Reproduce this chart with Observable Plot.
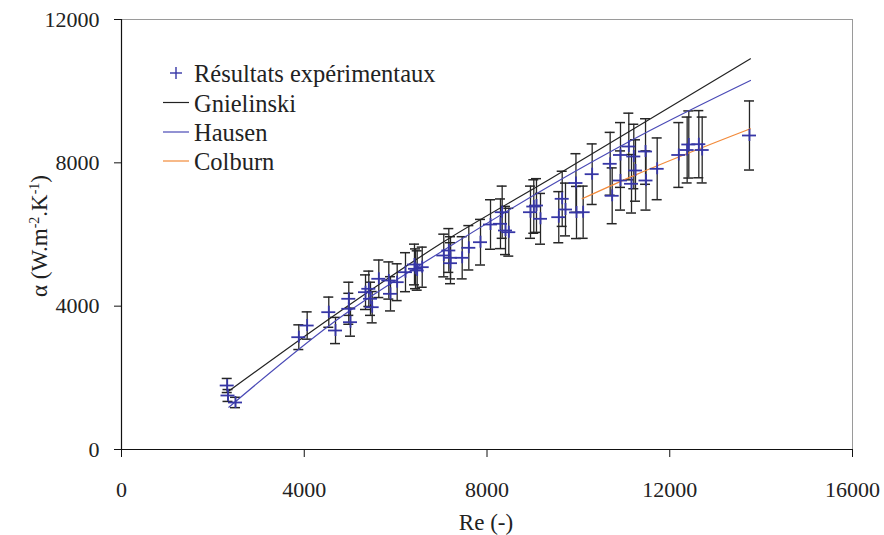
<!DOCTYPE html>
<html>
<head>
<meta charset="utf-8">
<script src="https://cdn.jsdelivr.net/npm/d3@7"></script>
<script src="https://cdn.jsdelivr.net/npm/@observablehq/plot@0.6"></script>
<style>
  html, body { margin: 0; padding: 0; background: #fff; }
  svg { display: block; }
</style>
</head>
<body>
<div id="chart"></div>
<script>
// Experimental points (Re, alpha)
const expRe = [2314, 2331, 2495, 3881, 4064, 4537, 4684, 4975, 4975, 5012,
  5341, 5413, 5450, 5487, 5632, 5851, 5888, 6034, 6216, 6413,
  6435, 6472, 6582, 7054, 7164, 7201, 7201, 7457, 7602, 7858,
  8077, 8295, 8332, 8405, 8477, 8952, 9024, 9083, 9171, 9571,
  9646, 9718, 9947, 9959, 10105, 10302, 10696, 10740, 10922, 10922,
  11104, 11163, 11213, 11250, 11470, 11480, 11725, 12198, 12381, 12417,
  12636, 12710, 13745];
const expAlpha = [1786, 1507, 1312, 3134, 3460, 3832, 3321, 4206, 3927, 3553,
  4390, 4485, 4206, 3971, 4764, 4716, 4345, 4669, 4948, 5163,
  5043, 4995, 5088, 5414, 5554, 5350, 5199, 5350, 5629, 5785,
  6279, 6299, 6622, 6112, 6064, 6622, 6781, 6809, 6438, 6483,
  6996, 6698, 7437, 6614, 6622, 7683, 7973, 7080, 8219, 7507,
  8456, 7415, 8177, 7786, 8316, 7507, 7833, 8219, 8358, 8512,
  8520, 8358, 8763];
const relErr = 0.11; // experimental uncertainty (±11 %)

// Correlations
const gnRe = [2313, 4756, 6982, 9390, 13767];
const gnAlpha = [1599, 3832, 5741, 7554, 10903];
const hauRe = [2349, 4793, 6982, 9390, 11360, 13767];
const hauAlpha = [1180, 3692, 5506, 7368, 8763, 10298];
const colRe = [10083, 11139, 13767];
const colAlpha = [6996, 7600, 8951];

const xTicks = [0, 4000, 8000, 12000, 16000];
const yTicks = [0, 4000, 8000, 12000];

const legendLabels = ["Résultats expérimentaux", "Gnielinski", "Hausen", "Colburn"];

const pts = expRe.map((r, i) => ({re: r, a: expAlpha[i], lo: expAlpha[i] * (1 - relErr), hi: expAlpha[i] * (1 + relErr)}));
const gn = gnRe.map((r, i) => ({re: r, a: gnAlpha[i]}));
const hau = hauRe.map((r, i) => ({re: r, a: hauAlpha[i]}));
const col = colRe.map((r, i) => ({re: r, a: colAlpha[i]}));

const blue = "#3636a6";
const hauCol = "#4a4ab6";
const colCol = "#f28a3a";
const errCol = "#262626";
const font = "Liberation Serif, Times New Roman, serif";

const chart = Plot.plot({
  width: 884,
  height: 535,
  marginLeft: 121,
  marginRight: 32,
  marginTop: 19,
  marginBottom: 86,
  style: {fontFamily: font, fontSize: "22px", background: "#fff", color: "#222"},
  x: {domain: [0, 16000]},
  y: {domain: [0, 12000]},
  marks: [
    Plot.ruleY([12000], {stroke: "#9a9a9a", strokeWidth: 1}),
    Plot.ruleX([16000], {stroke: "#9a9a9a", strokeWidth: 1}),
    // error bars
    Plot.ruleX(pts, {x: "re", y1: "lo", y2: "hi", stroke: errCol, strokeWidth: 1.3}),
    Plot.ruleY(pts, {y: "lo", x1: "re", x2: "re", insetLeft: -5, insetRight: -5, stroke: errCol, strokeWidth: 1.5}),
    Plot.ruleY(pts, {y: "hi", x1: "re", x2: "re", insetLeft: -5, insetRight: -5, stroke: errCol, strokeWidth: 1.5}),
    // correlations
    Plot.line(gn, {x: "re", y: "a", stroke: "#222", strokeWidth: 1.2, curve: "monotone-x"}),
    Plot.line(hau, {x: "re", y: "a", stroke: hauCol, strokeWidth: 1.2, curve: "monotone-x"}),
    Plot.line(col, {x: "re", y: "a", stroke: colCol, strokeWidth: 1.2, curve: "monotone-x"}),
    // plus markers
    Plot.ruleY(pts, {y: "a", x1: "re", x2: "re", insetLeft: -7, insetRight: -7, stroke: blue, strokeWidth: 1.8}),
    Plot.ruleX(pts, {x: "re", y1: "a", y2: "a", insetTop: -6, insetBottom: -6, stroke: blue, strokeWidth: 1.8}),
    // axes
    Plot.axisX({ticks: xTicks, tickSize: 8, tickPadding: 24, label: null, tickFormat: d3.format("d"), stroke: "#111"}),
    Plot.axisY({ticks: yTicks, tickSize: 7, tickPadding: 15, label: null, tickFormat: d3.format("d"), stroke: "#111"}),
    Plot.ruleX([0], {stroke: "#111", strokeWidth: 1.2}),
    Plot.ruleY([0], {stroke: "#111", strokeWidth: 1.2})
  ]
});

document.getElementById("chart").appendChild(chart);

const svg = d3.select(chart);

// axis titles
svg.append("text")
  .attr("x", 486).attr("y", 530)
  .attr("text-anchor", "middle")
  .attr("font-family", font).attr("font-size", 23).attr("fill", "#222")
  .text("Re (-)");

const yt = svg.append("text")
  .attr("transform", "translate(47,236) rotate(-90)")
  .attr("text-anchor", "middle")
  .attr("font-family", font).attr("font-size", 23).attr("fill", "#222");
yt.append("tspan").text("α (W.m");
yt.append("tspan").attr("dy", -8).attr("font-size", 14).text("-2");
yt.append("tspan").attr("dy", 8).text(".K");
yt.append("tspan").attr("dy", -8).attr("font-size", 14).text("-1");
yt.append("tspan").attr("dy", 8).text(")");

// legend
const lg = svg.append("g").attr("font-family", font).attr("font-size", 24.5).attr("fill", "#222").attr("text-anchor", "start");
const legendRows = [
  {kind: "plus", color: blue, y: 73},
  {kind: "line", color: "#222", y: 102.5},
  {kind: "line", color: hauCol, y: 132},
  {kind: "line", color: colCol, y: 161}
];
legendRows.forEach((it, i) => {
  if (it.kind === "plus") {
    lg.append("line").attr("x1", 170).attr("x2", 182).attr("y1", it.y).attr("y2", it.y).attr("stroke", it.color).attr("stroke-width", 1.4);
    lg.append("line").attr("x1", 176).attr("x2", 176).attr("y1", it.y - 6).attr("y2", it.y + 6).attr("stroke", it.color).attr("stroke-width", 1.4);
  } else {
    lg.append("line").attr("x1", 163).attr("x2", 189).attr("y1", it.y).attr("y2", it.y).attr("stroke", it.color).attr("stroke-width", 1.2);
  }
  lg.append("text").attr("x", 194).attr("y", it.y + 9).attr("text-anchor", "start").text(legendLabels[i]);
});
</script>
</body>
</html>
